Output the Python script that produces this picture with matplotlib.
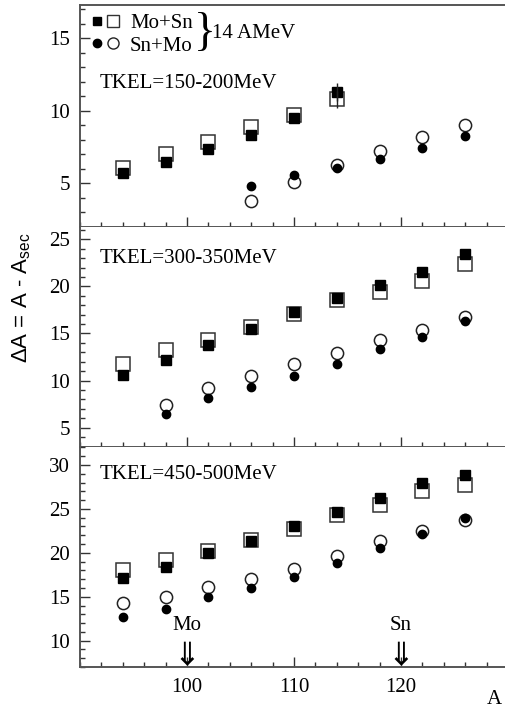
import numpy as np
import matplotlib.pyplot as plt
from matplotlib.ticker import MultipleLocator, FixedLocator
from matplotlib.legend_handler import HandlerTuple

plt.rcParams['font.family'] = ['Liberation Serif', 'DejaVu Serif']
plt.rcParams['mathtext.fontset'] = 'custom'
plt.rcParams['mathtext.rm'] = 'Liberation Sans'

# massas dos fragmentos
A = [94, 98, 102, 106, 110, 114, 118, 122, 126]
A_sn = [106, 110, 114, 118, 122, 126]
A_mid = [98, 102, 106, 110, 114, 118, 122, 126]

# TKEL = 150-200 MeV
p1_mosn_full = [5.7, 6.5, 7.35, 8.35, 9.5, 11.3]
p1_mosn_open = [6.1, 7.05, 7.85, 8.9, 9.75, 10.8]
p1_snmo_full = [4.85, 5.55, 6.1, 6.7, 7.47, 8.3]
p1_snmo_open = [3.8, 5.1, 6.25, 7.25, 8.2, 9.0]
p1_err = 0.6  # barra so no ponto 114

# TKEL = 300-350 MeV
p2_mosn_full = [10.6, 12.2, 13.8, 15.5, 17.3, 18.8, 20.1, 21.5, 23.4]
p2_mosn_open = [11.8, 13.2, 14.35, 15.7, 17.1, 18.5, 19.4, 20.55, 22.4]
p2_snmo_full = [6.4, 8.1, 9.3, 10.5, 11.75, 13.3, 14.65, 16.35]
p2_snmo_open = [7.4, 9.25, 10.5, 11.75, 12.95, 14.35, 15.35, 16.7]

# TKEL = 450-500 MeV
p3_mosn_full = [17.1, 18.4, 20.0, 21.4, 23.0, 24.7, 26.2, 28.0, 28.9]
p3_mosn_open = [18.05, 19.2, 20.25, 21.45, 22.7, 24.3, 25.45, 27.05, 27.75]
p3_snmo_full = [12.7, 13.55, 15.0, 15.95, 17.25, 18.8, 20.6, 22.2, 24.0]
p3_snmo_open = [14.25, 15.0, 16.15, 17.0, 18.15, 19.65, 21.4, 22.5, 23.7]

paineis = [
    ('TKEL=150-200MeV', A[:6], p1_mosn_full, p1_mosn_open, A_sn, p1_snmo_full, p1_snmo_open, (2.0, 17.3)),
    ('TKEL=300-350MeV', A, p2_mosn_full, p2_mosn_open, A_mid, p2_snmo_full, p2_snmo_open, (2.95, 26.3)),
    ('TKEL=450-500MeV', A, p3_mosn_full, p3_mosn_open, A, p3_snmo_full, p3_snmo_open, (7.0, 32.05)),
]
pos_titulo = [0.647, 0.855, 0.873]

cinza = '#555555'
fig = plt.figure(figsize=(5.05, 7.10), dpi=100)
esq, larg = 80 / 505, 427 / 505
limites = [(5, 227), (227, 447), (447, 667)]

eixos = []
for i, ((titulo, xa, sq_f, sq_o, xc, ci_f, ci_o, ylim), (t, b)) in enumerate(zip(paineis, limites)):
    ax = fig.add_axes([esq, 1 - b / 710, larg, (b - t) / 710])
    eixos.append(ax)

    ax.plot(xa, sq_o, 's', ms=10, mfc='white', mec='#333333', mew=1.1, ls='none')
    ax.plot(xa, sq_f, 's', ms=7, color='black', ls='none')
    ax.plot(xc, ci_o, 'o', ms=8.8, mfc='white', mec='#222222', mew=1.1, ls='none')
    ax.plot(xc, ci_f, 'o', ms=6, color='black', ls='none')

    ax.set_xlim(90, 129.9)
    ax.set_ylim(*ylim)
    ax.xaxis.set_major_locator(FixedLocator([100, 110, 120]))
    ax.xaxis.set_minor_locator(MultipleLocator(2))
    ax.yaxis.set_major_locator(MultipleLocator(5))
    ax.yaxis.set_minor_locator(MultipleLocator(1))
    ax.tick_params(which='both', direction='in', colors='#333333', labelcolor='black',
                   labelsize=15, top=False, right=False)
    ax.tick_params(which='major', length=7.2, width=1.0)
    ax.tick_params(which='minor', length=3.8, width=1.0)
    ax.tick_params(axis='y', pad=7)
    ax.tick_params(axis='x', pad=8)
    for lado in ['left', 'bottom', 'top']:
        ax.spines[lado].set_color(cinza)
        ax.spines[lado].set_linewidth(1.4)
    ax.spines['right'].set_visible(False)
    if i > 0:
        ax.spines['top'].set_visible(False)
    if i < 2:
        ax.tick_params(labelbottom=False)

    ax.text(0.047, pos_titulo[i], titulo, transform=ax.transAxes, fontsize=15, va='center')

# barra de erro no ponto 114 do primeiro painel
eixos[0].errorbar([114, 114], [p1_mosn_full[-1], p1_mosn_open[-1]], yerr=p1_err,
                  fmt='none', ecolor='#222222', elinewidth=1.0, capsize=0, zorder=3)

# legenda
ax0 = eixos[0]
h1 = (ax0.plot([], [], 's', ms=6, color='black')[0],
      ax0.plot([], [], 's', ms=8, mfc='white', mec='#333333', mew=1.0)[0])
h2 = (ax0.plot([], [], 'o', ms=6, color='black')[0],
      ax0.plot([], [], 'o', ms=8, mfc='white', mec='#222222', mew=1.0)[0])
ax0.legend([h1, h2], ['Mo+Sn', 'Sn+Mo'], handler_map={tuple: HandlerTuple(ndivide=None, pad=0)},
           loc='upper left', bbox_to_anchor=(0, 1), borderaxespad=0, borderpad=0.4,
           frameon=False, fontsize=15, handlelength=1.6, handletextpad=0.4, labelspacing=0.15)
ax0.text(0.292, 0.872, '}', transform=ax0.transAxes, fontsize=33, ha='center', va='center')
ax0.text(0.31, 0.872, '14 AMeV', transform=ax0.transAxes, fontsize=15, va='center')

# setas dos projeteis
ax3 = eixos[2]
for nome, xpos in [('Mo', 100), ('Sn', 120)]:
    ax3.text(xpos, 11.7, nome, fontsize=15, ha='center', va='center')
    ax3.text(xpos, 8.25, '\u21d3', fontsize=23, ha='center', va='center', family='DejaVu Sans')

fig.text(494 / 505, 1 - 700 / 710, 'A', fontsize=15, ha='center', va='center')
fig.text(22 / 505, 1 - 298 / 710, r'$\Delta$A = A - A$_{\rm sec}$', fontsize=16, rotation=90,
         ha='center', va='center', family='Liberation Sans')

fig.savefig('out.png', dpi=100)
